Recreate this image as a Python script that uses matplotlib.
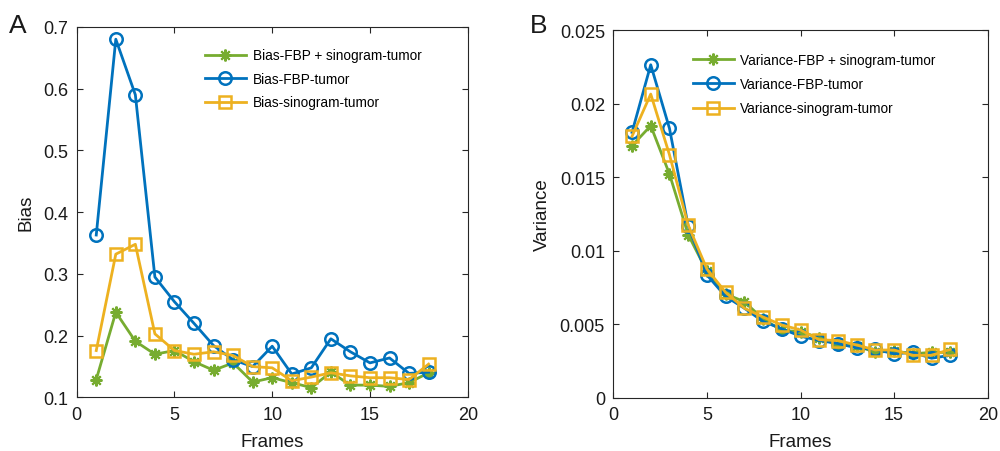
import numpy as np
import matplotlib
matplotlib.use('Agg')
import matplotlib.pyplot as plt

plt.rcParams['font.family'] = ['Liberation Sans', 'DejaVu Sans']

frames = np.arange(1, 19)

# Panel A - bias
bias_fbp_sino = [0.129, 0.238, 0.191, 0.170, 0.176, 0.158, 0.144, 0.156, 0.125,
                 0.132, 0.124, 0.116, 0.141, 0.120, 0.120, 0.118, 0.124, 0.140]
bias_fbp = [0.363, 0.680, 0.590, 0.295, 0.255, 0.220, 0.184, 0.161, 0.150,
            0.183, 0.138, 0.148, 0.195, 0.174, 0.156, 0.164, 0.139, 0.141]
bias_sino = [0.176, 0.332, 0.348, 0.203, 0.176, 0.170, 0.174, 0.168, 0.150,
             0.148, 0.127, 0.133, 0.140, 0.135, 0.132, 0.132, 0.129, 0.154]

# Panel B - variance
var_fbp_sino = [0.01714, 0.0185, 0.01522, 0.0111, 0.0086, 0.00707, 0.00654, 0.00537, 0.0046,
                0.0045, 0.0041, 0.0036, 0.00355, 0.0031, 0.0032, 0.0030, 0.0031, 0.0031]
var_fbp = [0.01805, 0.02264, 0.01832, 0.0117, 0.00836, 0.0069, 0.0061, 0.0052, 0.0047,
           0.0042, 0.0039, 0.0037, 0.0034, 0.0033, 0.0030, 0.0031, 0.0027, 0.0029]
var_sino = [0.01778, 0.02065, 0.01653, 0.01175, 0.00876, 0.00718, 0.0061, 0.0055, 0.00496,
            0.00462, 0.00396, 0.0039, 0.0036, 0.00326, 0.00326, 0.0029, 0.0029, 0.0033]

green = '#77AC30'
blue = '#0072BD'
orange = '#EDB120'
axcol = '#262626'

fig = plt.figure(figsize=(10, 4.52), dpi=100)
axA = fig.add_axes([0.0767, 0.1184, 0.391, 0.820])
axB = fig.add_axes([0.6133, 0.1173, 0.3744, 0.814])


def style_axes(ax):
    for s in ax.spines.values():
        s.set_color(axcol)
        s.set_linewidth(0.8)
    ax.tick_params(direction='in', top=True, right=True, length=4, width=0.8,
                   colors=axcol, labelsize=13, labelcolor='#1a1a1a', pad=6)
    ax.set_xlim(0, 20)
    ax.set_xticks([0, 5, 10, 15, 20])
    ax.set_xlabel('Frames', fontsize=13.5, color='#1a1a1a', labelpad=7)


def draw(ax, y1, y2, y3, labels):
    ax.plot(frames, y1, color=green, lw=2.0, marker=(8, 2, 0), ms=8.5, mew=1.5, label=labels[0])
    ax.plot(frames, y2, color=blue, lw=2.0, marker='o', ms=9, mfc='none', mew=1.8, label=labels[1])
    ax.plot(frames, y3, color=orange, lw=2.0, marker='s', ms=8, mfc='none', mew=1.8, label=labels[2])


draw(axA, bias_fbp_sino, bias_fbp, bias_sino,
     ['Bias-FBP + sinogram-tumor', 'Bias-FBP-tumor', 'Bias-sinogram-tumor'])
style_axes(axA)
axA.set_ylim(0.1, 0.7)
axA.set_yticks([0.1, 0.2, 0.3, 0.4, 0.5, 0.6, 0.7])
axA.set_ylabel('Bias', fontsize=13.5, color='#1a1a1a', labelpad=6)
axA.legend(loc='upper left', bbox_to_anchor=(0.328, 0.942), frameon=False,
           fontsize=9.8, handlelength=3.0, handletextpad=0.5, labelspacing=0.7,
           borderpad=0, borderaxespad=0)

draw(axB, var_fbp_sino, var_fbp, var_sino,
     ['Variance-FBP + sinogram-tumor', 'Variance-FBP-tumor', 'Variance-sinogram-tumor'])
style_axes(axB)
axB.set_ylim(0, 0.025)
axB.set_yticks([0, 0.005, 0.01, 0.015, 0.02, 0.025])
axB.set_yticklabels(['0', '0.005', '0.01', '0.015', '0.02', '0.025'])
axB.set_ylabel('Variance', fontsize=13.5, color='#1a1a1a', labelpad=6)
axB.legend(loc='upper left', bbox_to_anchor=(0.212, 0.938), frameon=False,
           fontsize=9.8, handlelength=3.0, handletextpad=0.5, labelspacing=0.75,
           borderpad=0, borderaxespad=0)

fig.text(0.009, 0.942, 'A', fontsize=19, color='#1a1a1a', va='center')
fig.text(0.530, 0.942, 'B', fontsize=19, color='#1a1a1a', va='center')

fig.savefig('out.png', dpi=100)
